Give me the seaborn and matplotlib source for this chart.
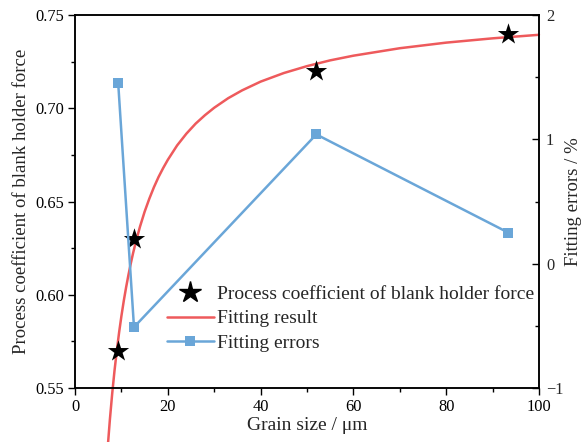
import matplotlib
matplotlib.use("Agg")
import matplotlib.pyplot as plt
import seaborn as sns
import pandas as pd
from matplotlib.ticker import MultipleLocator
from matplotlib.lines import Line2D

# data
grain_size = [9.3, 12.7, 52.0, 93.4]
coefficient = [0.570, 0.630, 0.720, 0.740]
fit_errors = [1.45, -0.51, 1.04, 0.25]

fit_x = [7.0, 7.5, 8, 8.5, 9, 9.5, 10, 10.5, 11, 11.5, 12, 12.5, 13, 14, 15, 16,
         17, 18, 19, 20, 22, 24, 26, 28, 30, 33, 36, 40, 45, 50, 55, 60, 70, 80,
         90, 100]
fit_y = [0.5171, 0.5330, 0.5470, 0.5593, 0.5702, 0.5800, 0.5888, 0.5968, 0.6040,
         0.6106, 0.6167, 0.6223, 0.6274, 0.6366, 0.6446, 0.6515, 0.6577, 0.6632,
         0.6680, 0.6724, 0.6801, 0.6864, 0.6918, 0.6963, 0.7003, 0.7054, 0.7096,
         0.7143, 0.7189, 0.7226, 0.7257, 0.7282, 0.7322, 0.7352, 0.7375, 0.7394]

sns.set_style("ticks")
plt.rcParams['font.family'] = ['Liberation Serif', 'DejaVu Serif']
plt.rcParams['mathtext.fontset'] = 'stix'

RED = "#EE5A5C"
BLUE = "#6AA6D8"

fig = plt.figure(figsize=(5.82, 4.42), dpi=100)
ax = fig.add_axes([0.129, 0.122, 0.797, 0.844])
ax2 = ax.twinx()

df_pts = pd.DataFrame({"x": grain_size, "y": coefficient})
df_fit = pd.DataFrame({"x": fit_x, "y": fit_y})
df_err = pd.DataFrame({"x": grain_size, "e": fit_errors})

sns.lineplot(data=df_fit, x="x", y="y", ax=ax, color=RED, lw=1.8, zorder=2,
             sort=True)
sns.scatterplot(data=df_pts, x="x", y="y", ax=ax, marker="*", s=260,
                color="black", edgecolor="black", linewidth=0, zorder=4)
sns.lineplot(data=df_err, x="x", y="e", ax=ax2, color=BLUE, lw=1.8,
             marker="s", markersize=6.5, markeredgewidth=0, zorder=3)

for line in ax.lines:
    line.set_clip_on(False)
    line.set_solid_joinstyle('round')

ax.set_xlim(0, 100)
ax.set_ylim(0.55, 0.75)
ax2.set_ylim(-1, 2)

ax.xaxis.set_major_locator(MultipleLocator(20))
ax.xaxis.set_minor_locator(MultipleLocator(10))
ax.yaxis.set_major_locator(MultipleLocator(0.05))
ax.yaxis.set_minor_locator(MultipleLocator(0.025))
ax.yaxis.set_major_formatter(matplotlib.ticker.FormatStrFormatter('%.2f'))
ax2.yaxis.set_major_locator(MultipleLocator(1))
ax2.yaxis.set_minor_locator(MultipleLocator(0.5))

ax.tick_params(axis='both', which='major', direction='out', length=5, width=1,
               labelsize=11.8, color='black', labelcolor='black', pad=3)
ax.tick_params(axis='both', which='minor', direction='out', length=3, width=1,
               color='black')
ax.tick_params(axis='y', right=False, which='both')
ax.tick_params(axis='x', top=False, which='both')
ax2.tick_params(axis='y', which='major', direction='in', length=5, width=1,
                labelsize=11.8, color='black', pad=5)
ax2.tick_params(axis='y', which='minor', direction='in', length=3, width=1,
                color='black')

for a in (ax, ax2):
    for s in a.spines.values():
        s.set_visible(True)
        s.set_color('black')
        s.set_linewidth(1.1)

ax.set_xlabel("Grain size / μm", fontsize=14, labelpad=1)
ax.set_ylabel("Process coefficient of blank holder force", fontsize=13.5, labelpad=4)
ax2.set_ylabel("Fitting errors / %", fontsize=13.5, labelpad=1)

handles = [
    Line2D([], [], marker="*", color="black", linestyle="none", markersize=16),
    Line2D([], [], color=RED, lw=1.8),
    Line2D([], [], color=BLUE, lw=1.8, marker="s", markersize=6.5, markeredgewidth=0),
]
labels = ["Process coefficient of blank holder force", "Fitting result", "Fitting errors"]
leg = ax2.legend(handles, labels, loc="upper left", bbox_to_anchor=(0.198, 0.276),
                 frameon=False, fontsize=14, handlelength=2.4, handletextpad=0.2,
                 labelspacing=0.36, borderaxespad=0, borderpad=0)

fig.savefig("out.png", dpi=100)
